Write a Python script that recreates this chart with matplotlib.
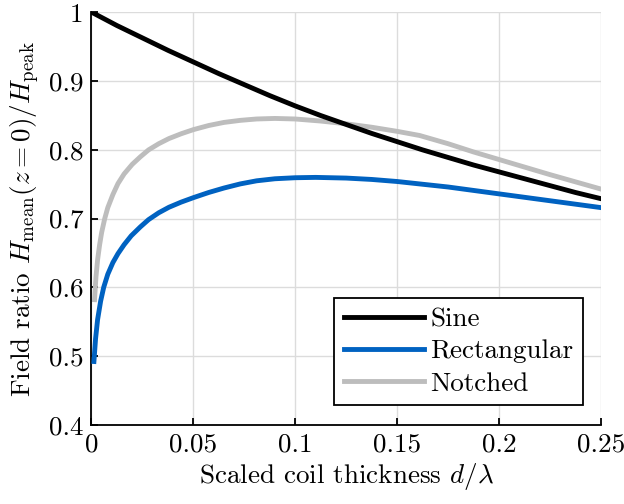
import matplotlib
matplotlib.use("Agg")
import matplotlib.pyplot as plt
from matplotlib.ticker import FuncFormatter

plt.rcParams['font.family'] = 'serif'
plt.rcParams['font.serif'] = ['cmr10']
plt.rcParams['mathtext.fontset'] = 'cm'
plt.rcParams['axes.unicode_minus'] = False

# mean field ratio vs scaled coil thickness d/lambda
d_sine = [0.001, 0.0125, 0.025, 0.0375, 0.05, 0.0625, 0.075, 0.0875, 0.1, 0.1125,
          0.125, 0.1375, 0.15, 0.1625, 0.175, 0.1875, 0.2, 0.2125, 0.225, 0.2375, 0.25]
h_sine = [0.999, 0.981, 0.963, 0.945, 0.928, 0.911, 0.895, 0.879, 0.864, 0.850,
          0.837, 0.824, 0.812, 0.800, 0.789, 0.778, 0.768, 0.758, 0.748, 0.738, 0.729]

d_rect = [0.0012, 0.002, 0.003, 0.0045, 0.006, 0.008, 0.0105, 0.013, 0.016, 0.0195,
          0.024, 0.028, 0.033, 0.038, 0.044, 0.05, 0.0575, 0.065, 0.073, 0.081,
          0.09, 0.1, 0.11, 0.125, 0.1375, 0.15, 0.1625, 0.175, 0.1875, 0.2,
          0.2125, 0.225, 0.2375, 0.25]
h_rect = [0.492, 0.525, 0.553, 0.580, 0.600, 0.619, 0.636, 0.649, 0.662, 0.675,
          0.688, 0.6985, 0.7085, 0.7165, 0.724, 0.7305, 0.738, 0.7445, 0.7505, 0.755,
          0.758, 0.7595, 0.760, 0.759, 0.757, 0.754, 0.750, 0.746, 0.741, 0.736,
          0.731, 0.726, 0.721, 0.716]

d_notch = [0.0015, 0.0022, 0.003, 0.004, 0.005, 0.0065, 0.008, 0.0105, 0.013, 0.016,
           0.02, 0.024, 0.028, 0.033, 0.038, 0.044, 0.05, 0.0575, 0.065, 0.073,
           0.081, 0.09, 0.1, 0.1125, 0.125, 0.1375, 0.15, 0.161, 0.175, 0.1875,
           0.2, 0.2125, 0.225, 0.2375, 0.25]
h_notch = [0.582, 0.615, 0.640, 0.662, 0.680, 0.700, 0.716, 0.735, 0.751, 0.765,
           0.779, 0.790, 0.800, 0.809, 0.8165, 0.8235, 0.8295, 0.8355, 0.840, 0.843,
           0.845, 0.8458, 0.845, 0.842, 0.838, 0.833, 0.827, 0.821, 0.809, 0.797,
           0.786, 0.775, 0.764, 0.7535, 0.743]

fig = plt.figure(figsize=(6.24, 5.04), dpi=100)
ax = fig.add_axes([0.1466, 0.1573, 0.8165, 0.8179])

ax.plot(d_sine, h_sine, color='black', lw=3.5, label='Sine', zorder=4,
        solid_joinstyle='round')
ax.plot(d_rect, h_rect, color='#0062c1', lw=3.5, label='Rectangular', zorder=3,
        solid_joinstyle='round')
ax.plot(d_notch, h_notch, color='#bdbdbd', lw=3.5, label='Notched', zorder=3,
        solid_joinstyle='round')

ax.set_xlim(0, 0.25)
ax.set_ylim(0.4, 1.0)
ax.set_xticks([0, 0.05, 0.1, 0.15, 0.2, 0.25])
ax.set_yticks([0.4, 0.5, 0.6, 0.7, 0.8, 0.9, 1.0])
fmt = FuncFormatter(lambda v, p: '%g' % round(v, 3))
ax.xaxis.set_major_formatter(fmt)
ax.yaxis.set_major_formatter(fmt)

ax.grid(True, color='#dcdcdc', lw=1.0)
ax.set_axisbelow(True)
for s in ['top', 'right']:
    ax.spines[s].set_visible(False)
for s in ['left', 'bottom']:
    ax.spines[s].set_linewidth(1.3)
ax.tick_params(direction='in', length=5, width=1.3, labelsize=19.5, pad=6)

ax.set_xlabel(r'Scaled coil thickness $d/\lambda$', fontsize=19.5, labelpad=3)
ax.set_ylabel(r'Field ratio $H_\mathrm{mean}(z=0)/H_\mathrm{peak}$', fontsize=19.5,
              labelpad=5)

leg = ax.legend(loc='lower right', bbox_to_anchor=(0.9647, 0.0478), borderaxespad=0,
                fontsize=19.5, handlelength=2.95, handletextpad=0.25, borderpad=0.35,
                labelspacing=0.3, fancybox=False, framealpha=1)
leg.get_frame().set_edgecolor('black')
leg.get_frame().set_linewidth(1.3)

fig.savefig('out.png', dpi=100)
